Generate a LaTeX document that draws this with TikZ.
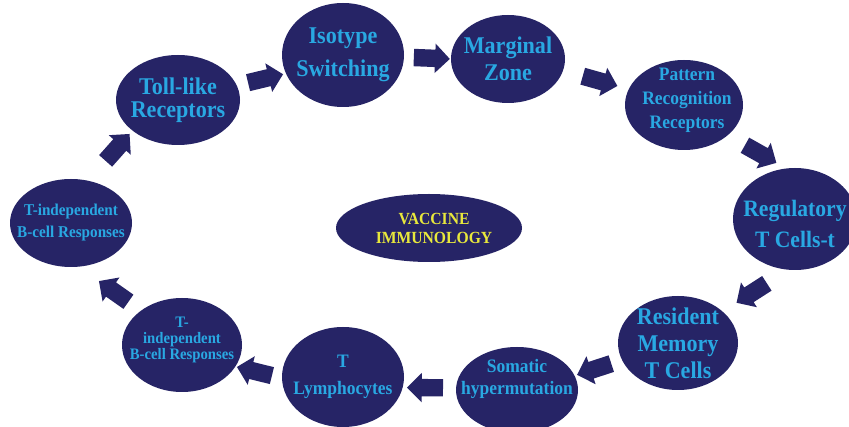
\documentclass[tikz,border=0pt]{standalone}
\usepackage{fontspec}
\setmainfont[FakeStretch=0.92]{Liberation Serif}
\usetikzlibrary{shapes.geometric,shapes.arrows}
\definecolor{navy}{RGB}{38,36,102}
\definecolor{lblue}{RGB}{41,168,226}
\definecolor{cyel}{RGB}{232,232,60}
\newcommand\myfs[2]{\bfseries\fontsize{#1}{#2}\selectfont}
\newcommand\shaftstrut{\rule{0pt}{17pt}}
\begin{document}
\begin{tikzpicture}[x=1pt,y=-1pt,
  bub/.style={ellipse, fill=navy, inner sep=0pt},
  txt/.style={text=lblue, align=center, inner sep=0pt},
  barrow/.style={single arrow, fill=navy, draw=none, minimum height=36pt,
    minimum width=29pt, single arrow head extend=6pt, inner sep=0pt,
    midway, sloped, allow upside down}]
\useasboundingbox (0,0) rectangle (849,427);
\fill[white] (0,0) rectangle (849,427);

% ellipses
\node[bub, minimum width=122pt, minimum height=88pt] (l1) at (71,223) {};
\node[bub, minimum width=124pt, minimum height=90pt] (tl) at (178,100) {};
\node[bub, minimum width=122pt, minimum height=104pt] (is) at (343,55) {};
\node[bub, minimum width=114pt, minimum height=88pt] (mz) at (508,59) {};
\node[bub, minimum width=118pt, minimum height=90pt] (pr) at (684,105) {};
\node[bub, minimum width=124pt, minimum height=102pt] (rg) at (795,219) {};
\node[bub, minimum width=120pt, minimum height=94pt] (rm) at (678,343) {};
\node[bub, minimum width=122pt, minimum height=86pt] (sh) at (517,390) {};
\node[bub, minimum width=122pt, minimum height=100pt] (tly) at (343,377) {};
\node[bub, minimum width=120pt, minimum height=94pt] (l2) at (182,345) {};
\node[bub, minimum width=186pt, minimum height=68pt] (cen) at (429,228) {};

% texts
\node[txt, font=\myfs{16.5}{22}] (l1t) at (l1) {T-independent\\B-cell Responses};
\node[txt, font=\myfs{24}{23}] (tlt) at (tl) {Toll-like\\Receptors};
\node[txt, font=\myfs{24}{33}] (ist) at (is) {Isotype\\Switching};
\node[txt, font=\myfs{24}{27}] (mzt) at (mz) {Marginal\\Zone};
\node[txt, font=\myfs{19}{24}, xshift=3pt, yshift=5pt] (prt) at (pr) {Pattern\\Recognition\\Receptors};
\node[txt, font=\myfs{23.5}{31}, yshift=-5pt] (rgt) at (rg) {Regulatory\\T Cells-t};
\node[txt, font=\myfs{24}{27}] (rmt) at (rm) {Resident\\Memory\\T Cells};
\node[txt, font=\myfs{19}{22}, yshift=11pt] (sht) at (sh) {Somatic\\hypermutation};
\node[txt, font=\myfs{19}{27}] (tlyt) at (tly) {T\\Lymphocytes};
\node[txt, font=\myfs{16}{16}, yshift=5pt] (l2t) at (l2) {T-\\independent\\B-cell Responses};
\node[txt, text=cyel, font=\myfs{17}{19}, xshift=5pt] (cent) at (cen) {VACCINE\\IMMUNOLOGY};

% block arrows
\path (tl.14) -- (is.198) node[barrow] (a1) {\shaftstrut};
\path (is.-2) -- (mz.180) node[barrow] (a2) {\shaftstrut};
\path (mz.-12) -- (pr.164) node[barrow] (a3) {\shaftstrut};
\path (pr.-35) -- (rg.100) node[barrow] (a4) {\shaftstrut};
\path (rg.262) -- (rm.35) node[barrow] (a5) {\shaftstrut};
\path (rm.197) -- (sh.14) node[barrow] (a6) {\shaftstrut};
\path (sh.178) -- (tly.-10) node[barrow] (a7) {\shaftstrut};
\path (tly.181) -- (l2.-22) node[barrow] (a8) {\shaftstrut};
\path (l2.140) -- (l1.-80) node[barrow, pos=0.38] (a9) {\shaftstrut};
\path (l1.68) -- (tl.214) node[barrow, pos=0.6] (a10) {\shaftstrut};
\end{tikzpicture}
\end{document}
